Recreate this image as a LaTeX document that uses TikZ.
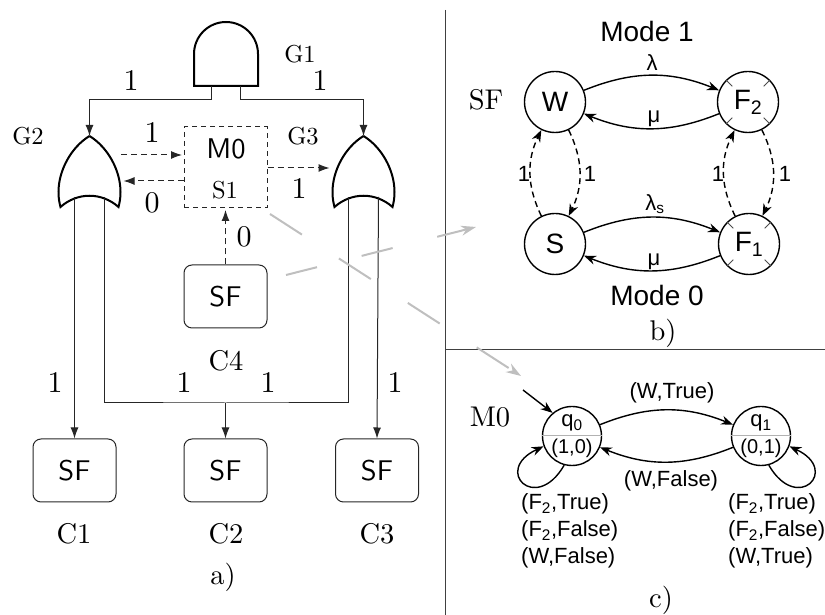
\documentclass[tikz,border=0pt]{standalone}
\usepackage{fontspec}
\usetikzlibrary{arrows.meta}
\newfontfamily\arialfont{Liberation Sans}
\newcommand\bigsf[1]{\scalebox{2.85}{\sffamily #1}}

\begin{document}
\begin{tikzpicture}[
  x=1pt,
  y=1pt,
  wire/.style={
    draw=black!85,
    line width=1pt,
    -{Latex[length=11pt,width=8pt]},
  },
  dashed wire/.style={
    wire,
    dash pattern=on 6pt off 4pt,
    shorten >=1.5pt,
  },
  gate/.style={
    draw,
    fill=white,
    line width=2pt,
  },
  sf box/.style={
    draw=black!85,
    line width=1pt,
    rounded corners=8pt,
    minimum width=83pt,
    minimum height=63pt,
  },
  mode box/.style={
    draw=black!85,
    dash pattern=on 5pt off 4pt,
    line width=1pt,
    minimum width=83pt,
    minimum height=81pt,
  },
  state/.style={
    circle,
    draw,
    line width=1.4pt,
    minimum size=61pt,
    inner sep=0pt,
    font=\fontsize{28}{28}\selectfont\arialfont,
  },
  small state/.style={
    state,
    minimum size=59pt,
  },
  edge/.style={
    line width=1.4pt,
    -{Stealth[length=12pt,width=9pt]},
  },
  dashed edge/.style={
    edge,
    dash pattern=on 6pt off 4pt,
  },
  link/.style={
    draw=black!25,
    line width=2pt,
    -{Stealth[length=15pt,width=10pt]},
  },
  big/.style={scale=2.85},
  tag/.style={scale=2.45},
  weight/.style={scale=3},
  sans/.style={font=\fontsize{22}{22}\selectfont\arialfont},
  mode/.style={font=\fontsize{28}{28}\selectfont\arialfont},
  guard/.style={
    font=\fontsize{22}{27}\selectfont\arialfont,
    align=left,
    anchor=west,
    inner sep=0pt,
  },
]
\useasboundingbox (0,0) rectangle (825,615);

% panels
\draw[black!75,line width=1pt] (445,605) -- (445,0);
\draw[black!75,line width=1pt] (445,265) -- (825,265);

% gates
\draw[gate] (194,529) -- (194,561) arc[start angle=180,end angle=0,radius=32]
  -- (258,529) -- cycle;
\foreach \g/\x in {G2/89.5,G3/363.5} {
  \draw[gate] (\x,479) .. controls (\x-18,468) and (\x-31,445) .. (\x-31,423)
    .. controls (\x-31,416) and (\x-30,412) .. (\x-29,408)
    .. controls (\x-12,423) and (\x+12,423) .. (\x+29,408)
    .. controls (\x+30,412) and (\x+31,416) .. (\x+31,423)
    .. controls (\x+31,445) and (\x+18,468) .. (\x,479);
  \coordinate (\g-in) at (\x,479);
  \coordinate (\g-a) at (\x-15,418);
  \coordinate (\g-b) at (\x+15,418);
}
\coordinate (G1-a) at (211,529);
\coordinate (G1-b) at (240,529);
\coordinate (G2-out) at (121,460);
\coordinate (G2-back) at (122,434);
\coordinate (G3-back) at (331,447);

% system
\node[sf box] (C1) at (74.5,144.5) {\bigsf{SF}};
\node[sf box] (C2) at (225.5,144.5) {\bigsf{SF}};
\node[sf box] (C3) at (377,144.5) {\bigsf{SF}};
\node[sf box] (C4) at (225.5,318.5) {\bigsf{SF}};
\node[mode box] (M0) at (225.5,447.5) {};
\node (M0-name) at (226,466) {\bigsf{M0}};
\node[tag] (S1) at (225,425) {S1};

\draw[wire] (G1-a) -- ++(0,-14) -| (G2-in);
\draw[wire] (G1-b) -- ++(0,-14) -| (G3-in);
\draw[wire] (G2-a) -- (C1.north);
\draw[wire] (G3-b) -- (C3.north);
\draw[wire,-] (G2-b) |- (C2.north |- 0,212) -| (G3-a);
\draw[wire] (C2.north |- 0,212) -- (C2.north);
\draw[dashed wire] (G2-out) -- (G2-out -| M0.west);
\draw[dashed wire] (G2-back -| M0.west) -- (G2-back);
\draw[dashed wire] (G3-back -| M0.east) -- (G3-back);
\draw[dashed wire] (C4.north) -- (M0.south);

\node[tag] (G1) at (300,561) {G1};
\node[tag] (G2) at (28,479) {G2};
\node[tag] (G3) at (303,479) {G3};
\node[big] (C1-name) at (74,81) {C1};
\node[big] (C2-name) at (226,81) {C2};
\node[big] (C3-name) at (377,81) {C3};
\node[big] (C4-name) at (226,254) {C4};
\node[big] (a) at (223,38) {a)};
\foreach \x/\y/\t [count=\i] in {
  131/534/1,320/534/1,152/482/1,152/412/0,299/426/1,244/378/0,
  55/232/1,184/232/1,268/232/1,395/232/1} {
  \node[weight] (w\i) at (\x,\y) {\t};
}

% links between panels
\coordinate (link-a) at (270,401);
\coordinate (link-b) at (521,239);
\coordinate (link-c) at (286,340);
\coordinate (link-d) at (476,388);
\draw[link,dash pattern=on 38pt off 44pt] (link-a) -- (link-b);
\draw[link,dash pattern=on 32pt off 46pt] (link-c) -- (link-d);

% fault model
\node[state] (W) at (555,513) {W};
\node[state] (F2) at (748,513) {F\textsubscript{2}};
\node[state] (S) at (555,371) {S};
\node[state] (F1) at (749,371) {F\textsubscript{1}};
\foreach \n in {F2,F1} {
  \foreach \a in {45,135,225,315} {
    \draw[black!70,line width=.8pt] (\n.\a) -- ([shift={(\a+180:9)}]\n.\a);
  }
}
\draw[edge] (W) to[bend left=22] (F2);
\draw[edge] (F2) to[bend left=22] (W);
\draw[edge] (S) to[bend left=22] (F1);
\draw[edge] (F1) to[bend left=22] (S);
\draw[dashed edge] (S) to[bend left=26] (W);
\draw[dashed edge] (W) to[bend left=26] (S);
\draw[dashed edge] (F1) to[bend left=26] (F2);
\draw[dashed edge] (F2) to[bend left=26] (F1);

\node[mode] (mode-1) at (647,583) {Mode 1};
\node[mode] (mode-0) at (657,320) {Mode 0};
\node[big] (SF) at (486,515) {SF};
\node[big] (b) at (663,282) {b)};
\node[sans] (lambda) at (652,552) {λ};
\node[sans] (mu-a) at (654,496) {μ};
\node[sans] (lambda-s) at (655,411) {λ\textsubscript{s}};
\node[sans] (mu-b) at (654,353) {μ};
\foreach \x/\y [count=\i] in {524/441,590/441,718/441,785/441} {
  \node[sans] (d\i) at (\x,\y) {1};
}

% monitor
\node[small state] (q0) at (572,179) {};
\node[small state] (q1) at (761,179) {};
\draw[black!30,line width=1pt] (q0.west) -- (q0.east);
\draw[black!30,line width=1pt] (q1.west) -- (q1.east);
\node[sans,inner sep=0pt] (q0-name) at (572,192) {q\textsubscript{0}};
\node[sans,inner sep=0pt] (q1-name) at (761,192) {q\textsubscript{1}};
\node[font=\fontsize{20}{20}\selectfont\arialfont,inner sep=0pt] (q0-out) at (572,167) {(1,0)};
\node[font=\fontsize{20}{20}\selectfont\arialfont,inner sep=0pt] (q1-out) at (761,167) {(0,1)};

\coordinate (start) at (523,225);
\draw[edge] (start) -- (q0.130);
\draw[edge] (q0) to[bend left=22] (q1);
\draw[edge] (q1) to[bend left=22] (q0);
\draw[edge] (q0.255) to[out=240,in=205,looseness=5.2] (q0.200);
\draw[edge] (q1.285) to[out=300,in=335,looseness=5.2] (q1.340);

\node[big] (M0-label) at (490,198) {M0};
\node[sans] (up) at (672,222) {(W,True)};
\node[sans] (down) at (671,134) {(W,False)};
\node[guard] (left-guards) at (521,84) {(F\textsubscript{2},True)\\(F\textsubscript{2},False)\\(W,False)};
\node[guard] (right-guards) at (728,84) {(F\textsubscript{2},True)\\(F\textsubscript{2},False)\\(W,True)};
\node[big] (c) at (661,15) {c)};
\end{tikzpicture}
\end{document}
